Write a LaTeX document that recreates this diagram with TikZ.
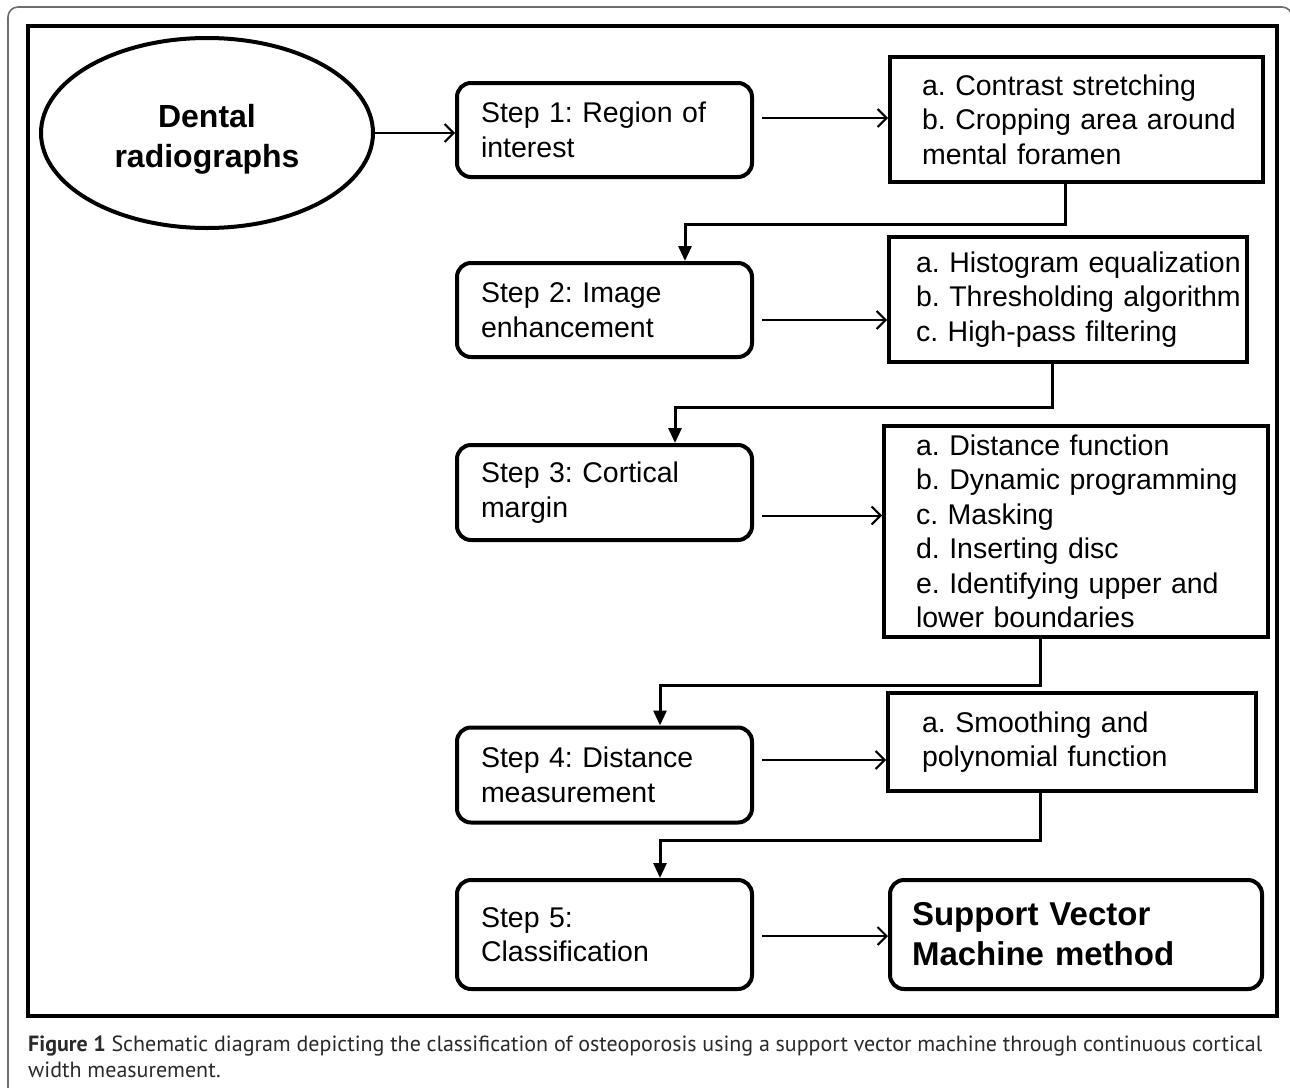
\documentclass[tikz,border=0pt]{standalone}
\usepackage{fontspec}
\setmainfont{Liberation Sans}
\newfontfamily\capfont{PT Sans}
\usepackage{tikz}
\usetikzlibrary{calc,arrows.meta,shapes.geometric}
\frenchspacing

\definecolor{capgray}{HTML}{2A2A2A}
\definecolor{framegray}{HTML}{6E6E6E}

\tikzset{
  stepbox/.style={draw, line width=4pt, rounded corners=14pt, minimum width=295pt, inner xsep=4pt,
                  text width=287pt, align=left, execute at begin node={\leftskip=20pt},
                  font=\fontsize{28.5}{34.5}\selectfont},
  listbox/.style={draw, line width=4pt, inner xsep=4pt, align=left, execute at begin node={\leftskip=#1},
                  font=\fontsize{28.5}{34.5}\selectfont},
  listbox/.default=28pt,
  arr/.style={-{Straight Barb[length=9pt,width=18pt,line width=2pt]}, line width=2pt},
  conn/.style={-{Triangle[length=15pt,width=13pt]}, line width=3pt}
}

\begin{document}
\begin{tikzpicture}[x=1pt,y=-1pt]
  \useasboundingbox (0,0) rectangle (1290,1087);
  \draw[framegray, line width=1.6pt, rounded corners=10pt] (8,7) rectangle (1292,1110);
  \draw[line width=4.5pt] (28,26) rectangle (1277,1016);

  % left column
  \node[draw, ellipse, line width=4pt, minimum width=332pt, minimum height=190pt, align=center,
        font=\fontsize{32}{40}\selectfont\bfseries] (dental) at (207,133) {\rule{0pt}{35pt}Dental\\radiographs};
  \node[stepbox, minimum height=94pt]  (step1) at (604.5,130)   {Step 1: Region of\\interest};
  \node[stepbox, minimum height=94pt]  (step2) at (604.5,310)   {Step 2: Image\\enhancement};
  \node[stepbox, minimum height=95pt]  (step3) at (604.5,492.5) {Step 3: Cortical\\margin};
  \node[stepbox, minimum height=95pt]  (step4) at (604.5,775)   {Step 4: Distance\\measurement};
  \node[stepbox, minimum height=109pt] (step5) at (604.5,934.5) {Step 5:\\Classification};

  % right column
  \node[listbox, minimum width=373pt, minimum height=125pt, text width=365pt] (prep) at (1076.5,119.5)
       {a. Contrast stretching\\b. Cropping area around\\mental foramen};
  \node[listbox=23pt, minimum width=358pt, minimum height=125pt, text width=350pt] (enh) at (1068,299.5)
       {a. Histogram equalization\\b. Thresholding algorithm\\c. High-pass filtering};
  \node[listbox, minimum width=384pt, minimum height=211pt, text width=376pt, inner ysep=2pt] (cort) at (1076,531.5)
       {a. Distance function\\b. Dynamic programming\\c. Masking\\d. Inserting disc\\e. Identifying upper and\\lower boundaries};
  \node[listbox=30pt, minimum width=368pt, minimum height=98pt, text width=360pt] (smooth) at (1072,742)
       {a. Smoothing and\\polynomial function};
  \node[draw, line width=4pt, rounded corners=14pt, minimum width=372pt, minimum height=109pt, inner xsep=4pt,
        text width=364pt, align=left, execute at begin node={\leftskip=18pt},
        font=\fontsize{33}{40}\selectfont\bfseries] (svm) at (1076,934.5)
       {Support Vector\\Machine method};

  % arrows to the right
  \draw[arr] (dental.east) -- (dental.east -| step1.west);
  \draw[arr] (step1.east) ++(8,-12) coordinate (s1) -- (s1 -| prep.west);
  \draw[arr] (step2.east) ++(8,10) coordinate (s2) -- (s2 -| enh.west);
  \draw[arr] (step3.east) ++(8,23) coordinate (s3) -- (s3 -| cort.west);
  \draw[arr] (step4.east) ++(8,-15) coordinate (s4) -- (s4 -| smooth.west);
  \draw[arr] (step5.east) ++(8,1.5) coordinate (s5) -- (s5 -| svm.west);

  % links back to the next step
  \draw[conn] ([xshift=-11.5pt]prep.south) -- ++(0,40) -| ([xshift=80.5pt]step2.north);
  \draw[conn] ([xshift=-16pt]enh.south) -- ++(0,43) -| ([xshift=70.5pt]step3.north);
  \draw[conn] ([xshift=-36pt]cort.south) -- ++(0,46) -| ([xshift=55.5pt]step4.north);
  \draw[conn] ([xshift=-32pt]smooth.south) -- ++(0,47) -| ([xshift=55.5pt]step5.north);

  % caption
  \node[anchor=north west, text width=1234pt, align=justify, inner sep=0pt, text=capgray,
        font=\capfont\fontsize{22}{26}\selectfont] (caption) at (28,1036)
       {\textbf{Figure 1} Schematic diagram depicting the classification of osteoporosis using a support vector machine through continuous cortical\linebreak width measurement.};
\end{tikzpicture}
\end{document}
